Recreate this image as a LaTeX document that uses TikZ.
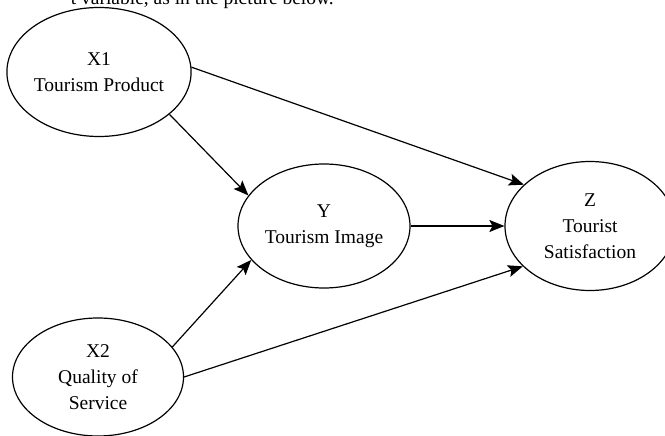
\documentclass[tikz,border=0pt]{standalone}
\usepackage{fontspec}
\setmainfont{Liberation Serif}
\usetikzlibrary{shapes.geometric}
\usetikzlibrary{arrows.meta}

\begin{document}
\begin{tikzpicture}[x=1pt,y=-1pt,
  var/.style={ellipse,draw=black,line width=1.2pt,inner sep=0pt,align=center,font=\fontsize{19.5}{26}\selectfont},
  link/.style={draw=black,line width=1.2pt,-{Stealth[length=15pt,width=12pt,inset=3pt]}}]
\useasboundingbox (0,0) rectangle (665,436);
\clip (0,0) rectangle (665,436);
\node[font=\fontsize{19.5}{26}\selectfont,anchor=base east,inner sep=0pt] (top) at (334,5) {t variable, as in the picture below.};

\node[var,minimum width=171pt,minimum height=129pt] (X1) at (99,72) {X1\\Tourism Product};
\node[var,minimum width=172pt,minimum height=124pt] (Y) at (324,226) {Y\\Tourism Image};
\node[var,minimum width=170pt,minimum height=129pt] (Z) at (590,226) {Z\\Tourist\\Satisfaction};
\node[var,minimum width=171pt,minimum height=118pt] (X2) at (98,377) {X2\\Quality of\\Service};

\draw[link] (X1.3) -- (Z.148);
\draw[link] (X1.-31) -- (Y.158);
\draw[link] (Y.east) -- (Z.west);
\draw[link] (X2.22) -- (Y.205);
\draw[link] (X2.0) -- (Z.211);

\end{tikzpicture}
\end{document}
